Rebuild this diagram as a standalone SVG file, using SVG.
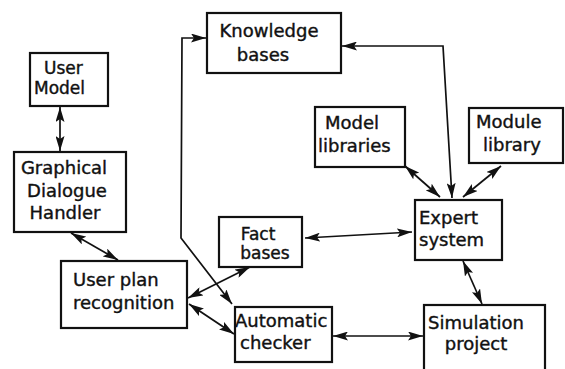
<svg xmlns="http://www.w3.org/2000/svg" width="565" height="369" viewBox="0 0 565 369">
<style>
.box{fill:#fff;stroke:#111;stroke-width:2.2}
.t{font-family:"DejaVu Sans",sans-serif;font-size:18px;fill:#111;stroke:#111;stroke-width:0.4}
.s{font-size:17px}
.c{fill:none;stroke:#111;stroke-width:1.7;marker-start:url(#ah);marker-end:url(#ah)}
</style>
<defs>
<marker id="ah" viewBox="0 0 15 9" refX="15" refY="4.5" markerWidth="15" markerHeight="9" markerUnits="userSpaceOnUse" orient="auto-start-reverse">
<path d="M0,0 L15,4.5 L0,9 L3,4.5 Z" fill="#111"/>
</marker>
</defs>
<rect width="565" height="369" fill="#fff"/>
<g id="connectors">
<line class="c" x1="60" y1="107" x2="60" y2="151"/>
<line class="c" x1="71" y1="233" x2="118" y2="260"/>
<line class="c" x1="188" y1="298" x2="250" y2="267"/>
<line class="c" x1="189" y1="304" x2="234" y2="334"/>
<polyline class="c" points="206,38 182,38 181,238 232,304"/>
<polyline class="c" points="342,46 443,46 452,198"/>
<line class="c" x1="405" y1="166" x2="440" y2="197"/>
<line class="c" x1="501" y1="166" x2="463" y2="197"/>
<line class="c" x1="305" y1="238" x2="412" y2="232"/>
<line class="c" x1="463" y1="261" x2="482" y2="304"/>
<line class="c" x1="333" y1="336" x2="423" y2="336"/>
</g>
<g id="user-model"><rect class="box" x="30" y="53" width="78" height="53"/><text class="t s" x="44" y="74">User</text><text class="t s" x="34" y="94">Model</text></g>
<g id="graphical-dialogue-handler"><rect class="box" x="14" y="152" width="112" height="80"/><text class="t" x="64" y="174" text-anchor="middle">Graphical</text><text class="t" x="67" y="197" text-anchor="middle">Dialogue</text><text class="t" x="65" y="219" text-anchor="middle">Handler</text></g>
<g id="knowledge-bases"><rect class="box" x="207" y="13" width="134" height="60"/><text class="t" x="269" y="37" text-anchor="middle">Knowledge</text><text class="t" x="263" y="61" text-anchor="middle">bases</text></g>
<g id="model-libraries"><rect class="box" x="315" y="107" width="90" height="60"/><text class="t" x="325" y="129">Model</text><text class="t" x="318" y="152">libraries</text></g>
<g id="module-library"><rect class="box" x="469" y="108" width="94" height="55"/><text class="t" x="476" y="128">Module</text><text class="t" x="483" y="151">library</text></g>
<g id="expert-system"><rect class="box" x="415" y="200" width="87" height="60"/><text class="t" x="419" y="224">Expert</text><text class="t" x="419" y="246">system</text></g>
<g id="fact-bases"><rect class="box" x="219" y="217" width="83" height="50"/><text class="t s" x="258" y="240" text-anchor="middle">Fact</text><text class="t s" x="265" y="259" text-anchor="middle">bases</text></g>
<g id="user-plan-recognition"><rect class="box" x="61" y="261" width="126" height="67"/><text class="t" x="73" y="286">User plan</text><text class="t" x="73" y="309">recognition</text></g>
<g id="automatic-checker"><rect class="box" x="235" y="307" width="97" height="55"/><text class="t" x="235" y="327">Automatic</text><text class="t" x="240" y="349">checker</text></g>
<g id="simulation-project"><rect class="box" x="424" y="305" width="121" height="70"/><text class="t" x="476" y="329" text-anchor="middle">Simulation</text><text class="t" x="476" y="350" text-anchor="middle">project</text></g>
</svg>
